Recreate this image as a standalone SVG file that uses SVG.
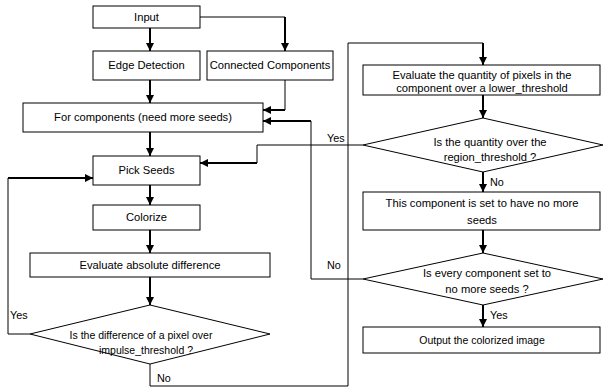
<svg xmlns="http://www.w3.org/2000/svg" width="607" height="388" viewBox="0 0 607 388">
<style>
.box{fill:#fff;stroke:#000;stroke-width:1}
.t{font-family:"Liberation Sans",Arial,sans-serif;font-size:11.2px;fill:#000;text-anchor:middle}
.a{font-size:10.5px}
.lbl{font-family:"Liberation Sans",Arial,sans-serif;font-size:10.8px;fill:#000}
.thin{fill:none;stroke:#000;stroke-width:1}
.thick{fill:none;stroke:#000;stroke-width:2;marker-end:url(#ah)}
</style>
<defs>
<marker id="ah" markerUnits="userSpaceOnUse" markerWidth="10" markerHeight="10" refX="8" refY="4" orient="auto">
<path d="M0,0 L8,4 L0,8 Z" fill="#000"/>
</marker>
</defs>
<rect width="607" height="388" fill="#fff"/>
<g id="connectors">
<line class="thick" x1="150" y1="28" x2="150" y2="51"/>
<polyline class="thin" points="200,17 285,17"/>
<line class="thick" x1="285" y1="17" x2="285" y2="51"/>
<line class="thick" x1="150" y1="80" x2="150" y2="103"/>
<polyline class="thin" points="285,80 285,110"/>
<line class="thick" x1="285" y1="110" x2="263" y2="110"/>
<polyline class="thin" points="363,279 311,279 311,121"/>
<line class="thick" x1="311" y1="121" x2="263" y2="121"/>
<line class="thick" x1="150" y1="132" x2="150" y2="156"/>
<polyline class="thin" points="363,145 257,145 257,163"/>
<line class="thick" x1="257" y1="163" x2="200" y2="163"/>
<polyline class="thin" points="30,334 8,334 8,178"/>
<line class="thick" x1="8" y1="178" x2="93" y2="178"/>
<line class="thick" x1="150" y1="185" x2="150" y2="205"/>
<line class="thick" x1="150" y1="230" x2="150" y2="253"/>
<line class="thick" x1="150" y1="277" x2="150" y2="305"/>
<polyline class="thin" points="150,364 150,386 348,386 348,43 483,43"/>
<line class="thick" x1="483" y1="43" x2="483" y2="65"/>
<line class="thick" x1="483" y1="95" x2="483" y2="118"/>
<line class="thick" x1="483" y1="172" x2="483" y2="192"/>
<line class="thick" x1="483" y1="230" x2="483" y2="253"/>
<line class="thick" x1="483" y1="305" x2="483" y2="327"/>
<text class="lbl" x="327" y="142">Yes</text>
<text class="lbl" x="490" y="186">No</text>
<text class="lbl" x="327" y="269">No</text>
<text class="lbl" x="490" y="319">Yes</text>
<text class="lbl" x="10" y="319">Yes</text>
<text class="lbl" x="157" y="382">No</text>
</g>
<g id="input"><rect class="box" x="93" y="6" width="107" height="22"/><text class="t" x="146.5" y="21">Input</text></g>
<g id="edge"><rect class="box" x="93" y="51" width="107" height="29"/><text class="t" x="146.5" y="69">Edge Detection</text></g>
<g id="cc"><rect class="box" x="207" y="51" width="126" height="29"/><text class="t" x="270" y="69">Connected Components</text></g>
<g id="forcomp"><rect class="box" x="23" y="103" width="240" height="29"/><text class="t" x="143" y="121">For components (need more seeds)</text></g>
<g id="pick"><rect class="box" x="93" y="156" width="107" height="29"/><text class="t" x="146.5" y="174">Pick Seeds</text></g>
<g id="colorize"><rect class="box" x="93" y="205" width="107" height="25"/><text class="t" x="146.5" y="221">Colorize</text></g>
<g id="evalabs"><rect class="box" x="30" y="253" width="240" height="24"/><text class="t" x="150" y="269">Evaluate absolute difference</text></g>
<g id="dec1"><polygon class="box" points="150,305 270,334 150,364 30,334"/><text class="t a" x="141" y="339">Is the difference of a pixel over</text><text class="t a" x="146" y="354">impulse_threshold ?</text></g>
<g id="evalq"><rect class="box" x="363" y="65" width="237" height="30"/><text class="t" x="482" y="79">Evaluate the quantity of pixels in the</text><text class="t" x="482" y="92">component over a lower_threshold</text></g>
<g id="dec2"><polygon class="box" points="483,118 603,145 483,172 363,145"/><text class="t" x="490" y="146">Is the quantity over the</text><text class="t" x="490" y="161">region_threshold ?</text></g>
<g id="setnone"><rect class="box" x="363" y="192" width="237" height="38"/><text class="t" x="482" y="207">This component is set to have no more</text><text class="t" x="482" y="224">seeds</text></g>
<g id="dec3"><polygon class="box" points="483,253 603,279 483,305 363,279"/><text class="t" x="487" y="277">Is every component set to</text><text class="t" x="487" y="293">no more seeds ?</text></g>
<g id="output"><rect class="box" x="363" y="327" width="237" height="26"/><text class="t a" x="482" y="344">Output the colorized image</text></g>
</svg>
